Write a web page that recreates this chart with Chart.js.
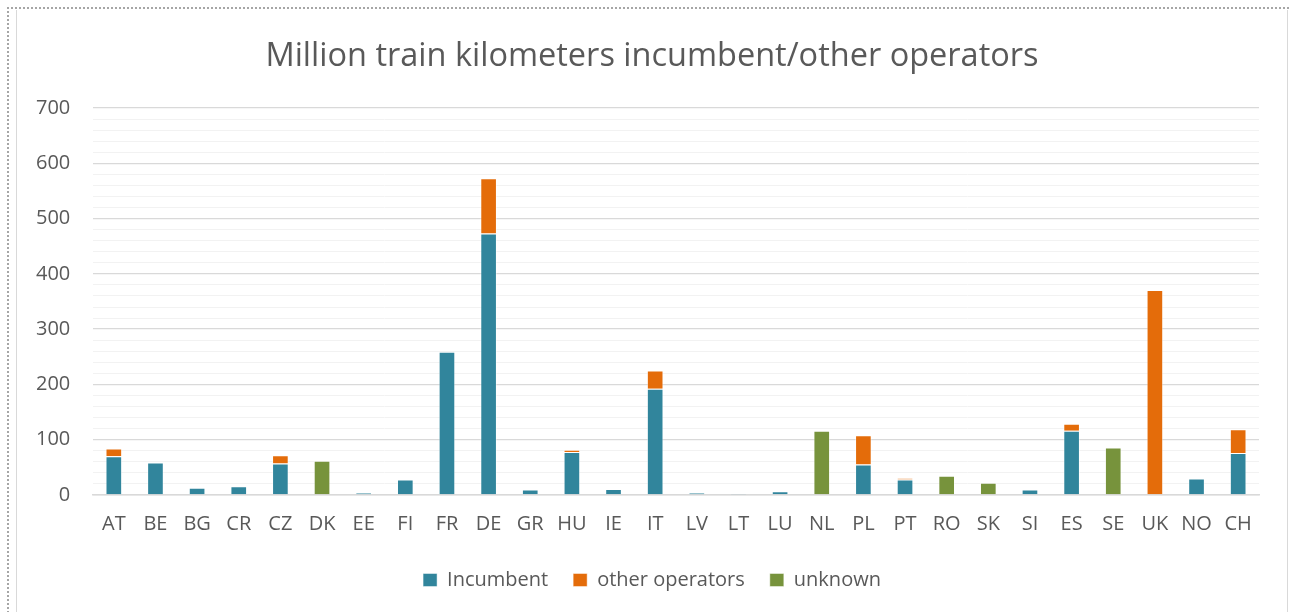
<!DOCTYPE html>
<html>
<head>
<meta charset="utf-8">
<title>Million train kilometers incumbent/other operators</title>
<script src="https://cdn.jsdelivr.net/npm/chart.js@4.4.1/dist/chart.umd.min.js"></script>
<style>
  html, body { margin: 0; padding: 0; background: #fff; overflow: hidden; }
  #wrap { position: relative; width: 1290px; height: 612px; }
  #frame-outer { position: absolute; left: 7px; top: 7px; width: 1300px; height: 700px;
    border-top: 2px dotted #a6a6a6; border-left: 2px dotted #a6a6a6; pointer-events: none; }
  #frame-inner { position: absolute; left: 16px; top: 10px; width: 1270px; height: 700px;
    border-left: 1px solid #d9d9d9; border-right: 1px solid #d9d9d9; pointer-events: none; }
</style>
</head>
<body>
<div id="wrap">
  <canvas id="chart" width="1290" height="612"></canvas>
  <div id="frame-outer"></div>
  <div id="frame-inner"></div>
</div>
<script>
// Données
const countries = ['AT', 'BE', 'BG', 'CR', 'CZ', 'DK', 'EE', 'FI', 'FR', 'DE', 'GR', 'HU', 'IE', 'IT',
  'LV', 'LT', 'LU', 'NL', 'PL', 'PT', 'RO', 'SK', 'SI', 'ES', 'SE', 'UK', 'NO', 'CH'];
const incumbent = [70, 59, 13, 16, 57, null, 4, 28, 259, 473, 10, 78, 11, 192,
  4, 2.5, 7, null, 55, 28, null, null, 10, 116, null, null, 30, 76];
const otherOperators = [14, null, null, null, 15, null, null, null, null, 100, null, 4, null, 33,
  null, null, null, null, 53, 2.5, null, null, null, 13, null, 371, null, 43];
const unknown = [null, null, null, null, null, 62, null, null, null, null, null, null, null, null,
  null, null, null, 116, null, null, 35, 22, null, null, 86, null, null, null];
const yTicks = [0, 100, 200, 300, 400, 500, 600, 700];

const COLORS = { incumbent: '#31859c', other: '#e46c0a', unknown: '#77933c', text: '#595959' };
const FONT = "'Open Sans', 'Liberation Sans', sans-serif";

function makeDataset(label, data, color) {
  return {
    label,
    data,
    backgroundColor: color,
    borderColor: 'rgba(255,255,255,0.45)',
    borderWidth: 1,
    borderSkipped: 'bottom',
    barPercentage: 0.4,
    categoryPercentage: 1,
    stack: 'total'
  };
}

const ctx = document.getElementById('chart').getContext('2d');
new Chart(ctx, {
  type: 'bar',
  data: {
    labels: countries,
    datasets: [
      makeDataset('Incumbent', incumbent, COLORS.incumbent),
      makeDataset('other operators', otherOperators, COLORS.other),
      makeDataset('unknown', unknown, COLORS.unknown)
    ]
  },
  options: {
    responsive: false,
    animation: false,
    // padding gauche plus large pour centrer titre/légende dans le cadre
    layout: { padding: { left: 45, right: 31, top: 0, bottom: 12 } },
    plugins: {
      title: {
        display: true,
        text: 'Million train kilometers incumbent/other operators',
        color: COLORS.text,
        font: { family: FONT, size: 32.5, weight: 'normal' },
        padding: { top: 37, bottom: 32 }
      },
      legend: {
        position: 'bottom',
        labels: {
          color: COLORS.text,
          font: { family: FONT, size: 20 },
          boxWidth: 14,
          boxHeight: 13,
          padding: 25
        }
      },
      tooltip: { enabled: false }
    },
    scales: {
      x: {
        stacked: true,
        grid: { display: false },
        border: { display: true, color: '#d9d9d9', width: 1.5 },
        ticks: { color: COLORS.text, font: { family: FONT, size: 20 }, padding: 9, maxRotation: 0, autoSkip: false }
      },
      y: {
        stacked: true,
        min: 0,
        max: 700,
        afterFit: (scale) => { scale.width = 48; },
        border: { display: false },
        grid: {
          drawTicks: false,
          color: (c) => (c.tick && c.tick.value % 100 === 0 ? '#d9d9d9' : '#f2f2f2'),
          lineWidth: (c) => (c.tick && c.tick.value % 100 === 0 ? 1.3 : 1)
        },
        ticks: {
          stepSize: 20,
          autoSkip: false,
          // mirror + padding négatif : libellés à droite alignés vers x≈70 sans découpe
          mirror: true,
          crossAlign: 'far',
          padding: -57,
          color: COLORS.text,
          font: { family: FONT, size: 20 },
          callback: (value) => (yTicks.includes(value) ? value : '')
        }
      }
    }
  }
});
</script>
</body>
</html>
